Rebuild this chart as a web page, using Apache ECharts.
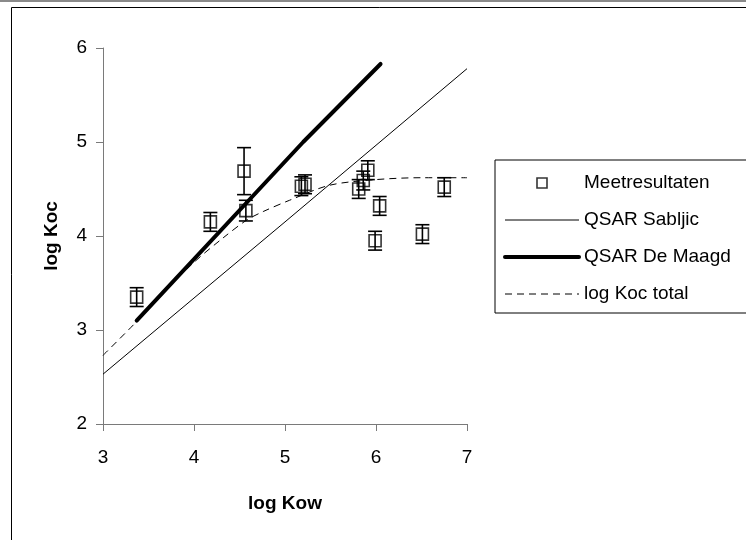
<!DOCTYPE html>
<html>
<head>
<meta charset="utf-8">
<script src="https://cdn.jsdelivr.net/npm/echarts@6/dist/echarts.min.js"></script>
<style>
html, body { margin: 0; padding: 0; background: #fff; }
#chart { width: 746px; height: 540px; }
</style>
</head>
<body>
<div id="chart"></div>
<script>
// meetresultaten: log Kow, log Koc en foutmarge
var meetKow  = [3.37, 4.18, 4.55, 4.57, 5.18, 5.22, 5.81, 5.86, 5.91, 6.04, 5.99, 6.51, 6.75];
var meetKoc  = [3.35, 4.15, 4.69, 4.27, 4.53, 4.55, 4.50, 4.59, 4.70, 4.32, 3.95, 4.02, 4.52];
var meetFout = [0.10, 0.10, 0.25, 0.11, 0.10, 0.10, 0.10, 0.10, 0.10, 0.10, 0.10, 0.10, 0.10];

// QSAR Sabljic
var sabljicKow = [3, 5, 7];
var sabljicKoc = [2.53, 4.15, 5.78];

// QSAR De Maagd
var maagdKow = [3.37, 5.2, 6.05];
var maagdKoc = [3.10, 5.00, 5.83];

// log Koc total
var totalKow = [3, 3.37, 3.6, 4, 4.32, 4.58, 4.76, 5.05, 5.49, 6, 6.5, 7];
var totalKoc = [2.73, 3.09, 3.33, 3.72, 3.98, 4.17, 4.26, 4.38, 4.54, 4.60, 4.62, 4.62];

// as-labels
var xTicks = [3, 4, 5, 6, 7];
var yTicks = [2, 3, 4, 5, 6];

var FONT = '"Liberation Sans", Arial, sans-serif';
var AXIS_KLEUR = '#7a7a7a';

var pairs = function(xs, ys){
	var out = [];
	for (var i = 0; i < xs.length; i++) out.push([xs[i], ys[i]]);
	return out;
};

var foutData = meetKow.map(function(x, i){
	return [x, meetKoc[i] - meetFout[i], meetKoc[i] + meetFout[i]];
});

//foutbalken tekenen
var renderFout = function(params, api){
	var x = api.value(0);
	var top = api.coord([x, api.value(2)]);
	var bot = api.coord([x, api.value(1)]);
	var half = 7;
	var st = { stroke: '#000', lineWidth: 1.6 };
	return {
		type: 'group',
		children: [
			{ type: 'line', shape: { x1: top[0], y1: top[1], x2: bot[0], y2: bot[1] }, style: st },
			{ type: 'line', shape: { x1: top[0] - half, y1: top[1], x2: top[0] + half, y2: top[1] }, style: st },
			{ type: 'line', shape: { x1: bot[0] - half, y1: bot[1], x2: bot[0] + half, y2: bot[1] }, style: st }
		]
	};
};

var axisCommon = {
	type: 'value',
	nameLocation: 'middle',
	nameTextStyle: { fontFamily: FONT, fontSize: 19, fontWeight: 'bold', color: '#000' },
	splitLine: { show: false },
	axisLine: { show: true, lineStyle: { color: AXIS_KLEUR, width: 1 } },
	axisTick: { show: true, length: 7, lineStyle: { color: AXIS_KLEUR } },
	axisLabel: { fontFamily: FONT, fontSize: 19, color: '#000' }
};

// legenda: geen bolletje bij de lijnen
var geenSymbool = { color: 'rgba(0,0,0,0)', borderWidth: 0, opacity: 0 };

var chart = echarts.init(document.getElementById('chart'));
chart.setOption({
	animation: false,
	backgroundColor: '#fff',
	grid: { left: 103, top: 48, right: 279, bottom: 116 },
	xAxis: echarts.util.merge({
		name: 'log Kow',
		nameGap: 70,
		min: xTicks[0],
		max: xTicks[xTicks.length - 1],
		interval: xTicks[1] - xTicks[0],
		axisLabel: { margin: 24 }
	}, axisCommon),
	yAxis: echarts.util.merge({
		name: 'log Koc',
		nameGap: 42,
		min: yTicks[0],
		max: yTicks[yTicks.length - 1],
		interval: yTicks[1] - yTicks[0],
		axisLabel: { margin: 16 }
	}, axisCommon),
	legend: {
		orient: 'vertical',
		left: 495,
		top: 160,
		padding: [13, 60, 9, 8],
		borderColor: '#000',
		borderWidth: 1,
		itemWidth: 74,
		itemHeight: 10,
		itemGap: 17,
		symbolKeepAspect: true,
		textStyle: { fontFamily: FONT, fontSize: 19, color: '#000', lineHeight: 20 },
		data: [
			{ name: 'Meetresultaten', icon: 'path://M0,0L10,0L10,10L0,10Z',
				itemStyle: { color: 'rgba(0,0,0,0)', borderColor: '#000', borderWidth: 1.6 } },
			{ name: 'QSAR Sabljic', itemStyle: geenSymbool, lineStyle: { width: 1 } },
			{ name: 'QSAR De Maagd', itemStyle: geenSymbool, lineStyle: { width: 4 } },
			{ name: 'log Koc total', itemStyle: geenSymbool, lineStyle: { width: 1, type: [7, 5] } }
		]
	},
	graphic: [
		{ type: 'rect', shape: { x: 0, y: 0, width: 746, height: 2 }, style: { fill: '#8a8a8a' }, silent: true },
		{ type: 'rect', shape: { x: 11.5, y: 7.5, width: 800, height: 600 }, style: { fill: 'none', stroke: '#000', lineWidth: 1 }, silent: true }
	],
	series: [
		{
			name: 'QSAR Sabljic',
			type: 'line',
			data: pairs(sabljicKow, sabljicKoc),
			showSymbol: false,
			symbol: 'none',
			lineStyle: { color: '#000', width: 1 },
			itemStyle: { color: '#000' },
			z: 2
		},
		{
			name: 'log Koc total',
			type: 'line',
			data: pairs(totalKow, totalKoc),
			showSymbol: false,
			symbol: 'none',
			smooth: 0.3,
			lineStyle: { color: '#000', width: 1, type: [7, 5] },
			itemStyle: { color: '#000' },
			z: 2
		},
		{
			name: 'QSAR De Maagd',
			type: 'line',
			data: pairs(maagdKow, maagdKoc),
			showSymbol: false,
			symbol: 'none',
			lineStyle: { color: '#000', width: 4, cap: 'round' },
			itemStyle: { color: '#000' },
			z: 3
		},
		{
			name: 'foutbalk',
			type: 'custom',
			data: foutData,
			encode: { x: 0, y: [1, 2] },
			renderItem: renderFout,
			z: 4
		},
		{
			name: 'Meetresultaten',
			type: 'scatter',
			data: pairs(meetKow, meetKoc),
			symbol: 'rect',
			symbolSize: 12,
			itemStyle: { color: 'rgba(0,0,0,0)', borderColor: '#000', borderWidth: 1.6 },
			z: 5
		}
	]
});
</script>
</body>
</html>
